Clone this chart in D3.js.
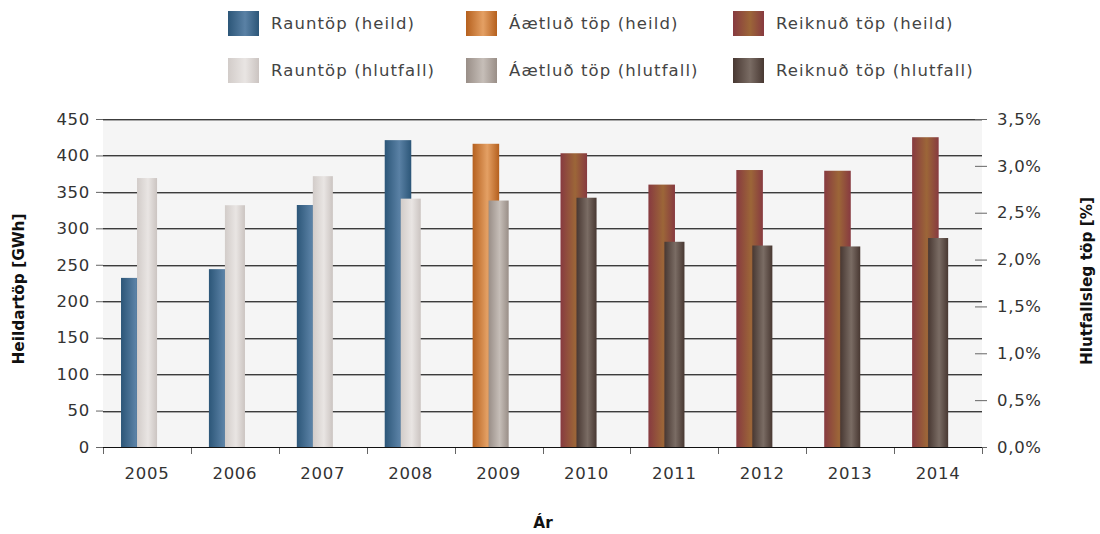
<!DOCTYPE html>
<html lang="is">
<head>
<meta charset="utf-8">
<script src="https://cdn.jsdelivr.net/npm/d3@7"></script>
<style>
  html, body { margin: 0; padding: 0; background: #ffffff; }
  svg { display: block; font-family: "DejaVu Sans", sans-serif; }
</style>
</head>
<body>
<svg id="chart" width="1100" height="534"></svg>
<script>
// Ár
const years = ["2005","2006","2007","2008","2009","2010","2011","2012","2013","2014"];
// Tegund tapa hvert ár: raun = mæld, aaetlad = áætluð, reiknad = reiknuð
const kinds = ["raun","raun","raun","raun","aaetlad","reiknad","reiknad","reiknad","reiknad","reiknad"];
// Heildartöp [GWh]
const heild = [232, 244, 332, 421, 416, 403, 360, 380, 379, 425];
// Hlutfallsleg töp [%]
const hlutfall = [2.87, 2.58, 2.89, 2.65, 2.63, 2.66, 2.19, 2.15, 2.14, 2.23];
// Ásamerki
const leftTicks = [0, 50, 100, 150, 200, 250, 300, 350, 400, 450];
const rightTicks = [0, 0.5, 1.0, 1.5, 2.0, 2.5, 3.0, 3.5];

const legendItems = [
  { key: "raun-h", label: "Rauntöp (heild)" },
  { key: "aaetlad-h", label: "Áætluð töp (heild)" },
  { key: "reiknad-h", label: "Reiknuð töp (heild)" },
  { key: "raun-p", label: "Rauntöp (hlutfall)" },
  { key: "aaetlad-p", label: "Áætluð töp (hlutfall)" },
  { key: "reiknad-p", label: "Reiknuð töp (hlutfall)" }
];

// Litaferlar fyrir súlurnar (lárétt skygging)
const gradients = {
  "raun-h":    ["#2c5678", "#5a81a5", "#2c5678"],
  "aaetlad-h": ["#b5601e", "#e4a064", "#b5601e"],
  "reiknad-h": ["#873a40", "#9c6638", "#873a40"],
  "raun-p":    ["#d2ccc9", "#e9e5e3", "#cbc4c1"],
  "aaetlad-p": ["#998e87", "#c6beb8", "#998e87"],
  "reiknad-p": ["#483832", "#7a6c64", "#483832"]
};

const svg = d3.select("#chart");
const defs = svg.append("defs");
Object.entries(gradients).forEach(([k, c]) => {
  const g = defs.append("linearGradient").attr("id", "g-" + k)
    .attr("x1", "0%").attr("x2", "100%").attr("y1", "0%").attr("y2", "0%");
  g.append("stop").attr("offset", "0%").attr("stop-color", c[0]);
  g.append("stop").attr("offset", "55%").attr("stop-color", c[1]);
  g.append("stop").attr("offset", "100%").attr("stop-color", c[2]);
});

const plot = { left: 103, right: 982, top: 119, bottom: 447 };

const x = d3.scaleBand().domain(years).range([plot.left, plot.right]);
const yL = d3.scaleLinear().domain([0, 450]).range([plot.bottom, plot.top]);
const yR = d3.scaleLinear().domain([0, 3.5]).range([plot.bottom, plot.top]);

const textColor = "#333333";
const tickFont = { size: "16.5px", spacing: "0.7px" };

// Bakgrunnur teiknisvæðis
svg.append("rect")
  .attr("x", plot.left).attr("y", plot.top)
  .attr("width", plot.right - plot.left).attr("height", plot.bottom - plot.top)
  .attr("fill", "#f5f5f5");

// Hjálparlínur
const grid = svg.append("g");
leftTicks.filter(d => d > 0).forEach(d => {
  const yy = Math.round(yL(d)) + 0.5;
  grid.append("line").attr("x1", plot.left).attr("x2", plot.right)
    .attr("y1", yy).attr("y2", yy).attr("stroke", "#3c3c3c").attr("stroke-width", 1);
  grid.append("line").attr("x1", plot.left).attr("x2", plot.right)
    .attr("y1", yy + 1).attr("y2", yy + 1).attr("stroke", "#a8a8a8").attr("stroke-width", 1);
});

// Súlur
const bw = x.bandwidth();
const bars = svg.append("g");
bars.selectAll("rect.heild").data(years).join("rect")
  .attr("class", "heild")
  .attr("x", (d) => x(d) + bw * 0.205)
  .attr("width", bw * 0.302)
  .attr("y", (d, i) => yL(heild[i]))
  .attr("height", (d, i) => yL(0) - yL(heild[i]))
  .attr("fill", (d, i) => `url(#g-${kinds[i]}-h)`);

bars.selectAll("rect.hlutfall").data(years).join("rect")
  .attr("class", "hlutfall")
  .attr("x", (d) => x(d) + bw * 0.387)
  .attr("width", bw * 0.228)
  .attr("y", (d, i) => yR(hlutfall[i]))
  .attr("height", (d, i) => yR(0) - yR(hlutfall[i]))
  .attr("fill", (d, i) => `url(#g-${kinds[i]}-p)`);

function styleTicks(sel) {
  sel.selectAll(".tick text").attr("fill", textColor)
    .style("font-size", tickFont.size)
    .style("letter-spacing", tickFont.spacing)
    .style("font-family", "'DejaVu Sans', sans-serif");
}

// Vinstri ás
const leftAxis = svg.append("g")
  .attr("transform", `translate(${plot.left},0)`)
  .call(d3.axisLeft(yL).tickValues(leftTicks).tickSize(7).tickPadding(6).tickFormat(d3.format("d")));
leftAxis.select(".domain").remove();
leftAxis.selectAll(".tick line").attr("stroke", "#666");
styleTicks(leftAxis);

// Hægri ás
const fmtPct = d => d3.format(".1f")(d).replace(".", ",") + "%";
const rightAxis = svg.append("g")
  .attr("transform", `translate(${plot.right},0)`)
  .call(d3.axisRight(yR).tickValues(rightTicks).tickSize(5).tickPadding(10).tickFormat(fmtPct));
rightAxis.select(".domain").remove();
rightAxis.selectAll(".tick line").attr("stroke", "#666").attr("x1", -7);
styleTicks(rightAxis);

// Lárétti ás
const xAxis = svg.append("g")
  .attr("transform", `translate(0,${plot.bottom})`)
  .call(d3.axisBottom(x).tickSize(0).tickPadding(20));
xAxis.select(".domain").attr("stroke", "#111").attr("d", `M${plot.left},0.5H${plot.right}`);
styleTicks(xAxis);
const bounds = years.map(d => x(d)).concat([plot.right]);
xAxis.selectAll("line.sep").data(bounds).join("line")
  .attr("class", "sep")
  .attr("x1", d => Math.round(d) + 0.5).attr("x2", d => Math.round(d) + 0.5)
  .attr("y1", 1).attr("y2", 7).attr("stroke", "#666");

// Ásaheiti
svg.append("text")
  .attr("x", 543).attr("y", 528).attr("text-anchor", "middle")
  .attr("fill", "#111").style("font-size", "15.3px").style("font-weight", "bold")
  .text("Ár");
svg.append("text")
  .attr("transform", `translate(24,${(plot.top + plot.bottom) / 2 + 6}) rotate(-90)`)
  .attr("text-anchor", "middle").attr("fill", "#111")
  .style("font-size", "15.3px").style("font-weight", "bold")
  .text("Heildartöp [GWh]");
svg.append("text")
  .attr("transform", `translate(1092,${(plot.top + plot.bottom) / 2 - 2}) rotate(-90)`)
  .attr("text-anchor", "middle").attr("fill", "#111")
  .style("font-size", "15.3px").style("font-weight", "bold")
  .text("Hlutfallsleg töp [%]");

// Skýringar
const legX = [228, 466, 733];
const legY = [11, 58];
const legend = svg.append("g");
legendItems.forEach((it, i) => {
  const col = i % 3, row = Math.floor(i / 3);
  legend.append("rect")
    .attr("x", legX[col]).attr("y", legY[row]).attr("width", 31).attr("height", 25)
    .attr("fill", `url(#g-${it.key})`);
  legend.append("text")
    .attr("x", legX[col] + 43).attr("y", legY[row] + 18)
    .attr("fill", "#444").style("font-size", "16.5px").style("letter-spacing", "1.1px")
    .text(it.label);
});
</script>
</body>
</html>
